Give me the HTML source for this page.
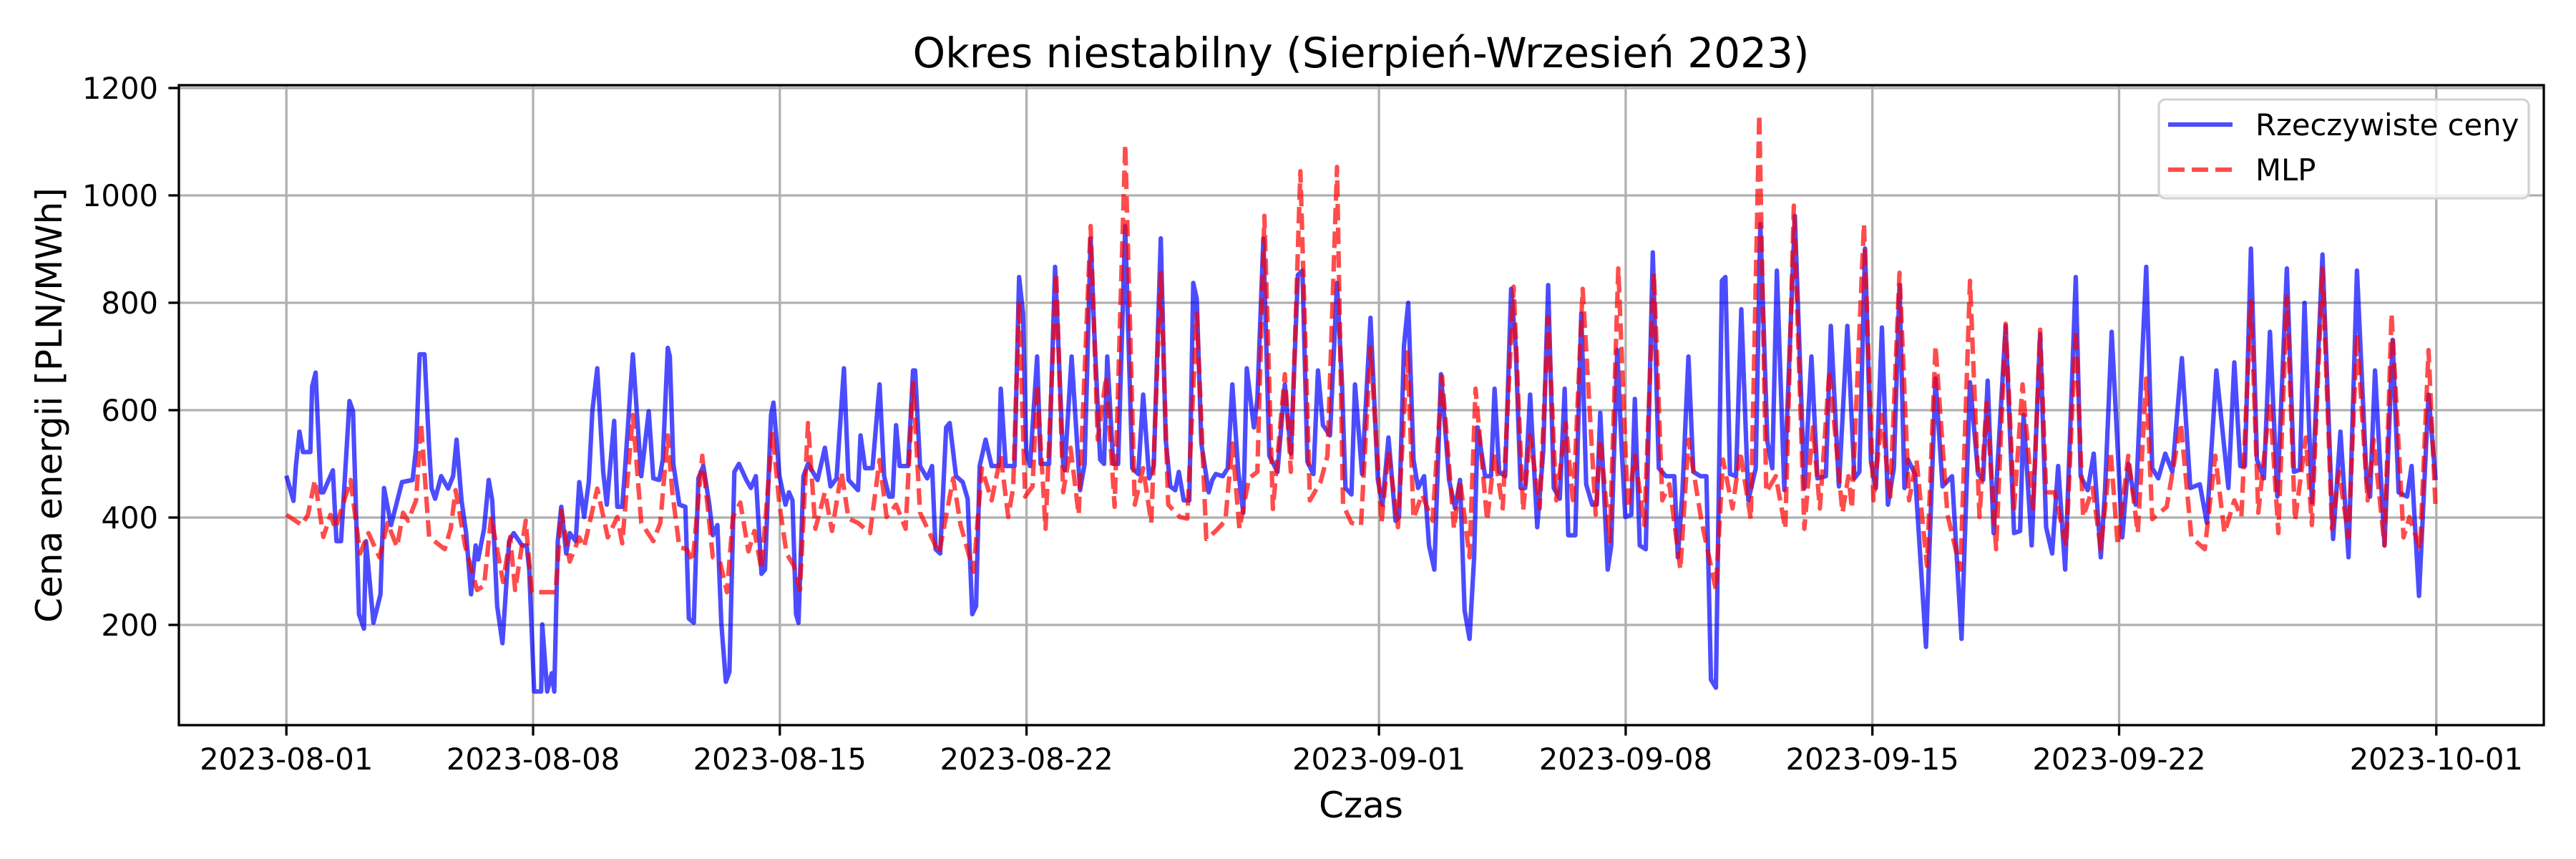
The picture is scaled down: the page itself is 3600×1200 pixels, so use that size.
<!DOCTYPE html>
<html><head><meta charset="utf-8">
<style>
html,body{margin:0;padding:0;background:#fff;}
svg{display:block;font-family:"DejaVu Sans","Liberation Sans",sans-serif;}
</style></head>
<body>
<svg id="chart" width="3600" height="1200" viewBox="0 0 3600 1200" xmlns="http://www.w3.org/2000/svg">
<rect x="0" y="0" width="3600" height="1200" fill="#fff"/>
<defs><clipPath id="plotclip"><rect x="250" y="119" width="3305" height="894"/></clipPath></defs>
<g id="grid"></g>
<g id="series" clip-path="url(#plotclip)"></g>
<rect x="250" y="119" width="3305" height="894" fill="none" stroke="#000" stroke-width="3.3"/>
<g id="ticks"></g>
<text x="1902" y="94" font-size="58" text-anchor="middle">Okres niestabilny (Sierpień-Wrzesień 2023)</text>
<text x="1902" y="1142" font-size="50" text-anchor="middle">Czas</text>
<text transform="translate(86,566) rotate(-90)" font-size="50" text-anchor="middle">Cena energii [PLN/MWh]</text>
<g>
<rect x="3017" y="139" width="517" height="138" rx="9" fill="#fff" fill-opacity="0.8" stroke="#d3d3d3" stroke-width="3.3"/>
<line x1="3030" y1="174" x2="3120" y2="174" stroke="#0000ff" stroke-opacity="0.7" stroke-width="6.25"/>
<text x="3152" y="189" font-size="41.7">Rzeczywiste ceny</text>
<line x1="3030" y1="237" x2="3120" y2="237" stroke="#ff0000" stroke-opacity="0.7" stroke-width="6.25" stroke-dasharray="23,10"/>
<text x="3152" y="252" font-size="41.7">MLP</text>
</g>
</svg>
<script>
// time in days since 2023-08-01 00:00
const actualDays = [0,.2,.27,.37,.47,.68,.73,.83,.98,1.05,1.32,1.42,1.55,1.69,1.79,1.89,1.96,2.06,2.2,2.26,2.47,2.67,2.77,2.97,3.28,3.58,3.68,3.78,3.92,4.05,4.12,4.22,4.39,4.59,4.73,4.83,4.97,5.1,5.24,5.37,5.44,5.61,5.74,5.84,5.98,6.13,6.32,6.45,6.69,6.82,6.89,7.03,7.23,7.26,7.4,7.53,7.6,7.7,7.8,7.94,8.04,8.21,8.31,8.45,8.58,8.68,8.82,8.99,9.09,9.3,9.39,9.53,9.59,9.83,10.07,10.28,10.41,10.58,10.68,10.82,10.88,10.98,11.15,11.32,11.42,11.56,11.69,11.83,12,12.1,12.23,12.34,12.47,12.57,12.71,12.84,13.05,13.18,13.32,13.48,13.58,13.75,13.82,13.99,14.16,14.26,14.36,14.46,14.53,14.67,14.8,15.07,15.28,15.44,15.61,15.82,15.95,16.22,16.29,16.42,16.63,16.83,16.96,17.1,17.2,17.3,17.4,17.64,17.78,17.84,17.98,18.18,18.32,18.42,18.55,18.72,18.82,19,19.19,19.33,19.46,19.57,19.67,19.84,20.01,20.21,20.27,20.41,20.6,20.66,20.79,20.9,20.99,21.1,21.3,21.4,21.64,21.81,21.91,22.04,22.08,22.28,22.52,22.65,22.82,22.92,23.09,23.2,23.29,23.46,23.6,23.8,24,24.17,24.31,24.48,24.61,24.81,24.95,25.08,25.22,25.32,25.46,25.62,25.73,25.83,25.96,26.17,26.27,26.37,26.57,26.71,26.84,27.01,27.15,27.25,27.45,27.55,27.72,27.89,28.12,28.33,28.5,28.7,28.83,28.97,29.14,29.27,29.41,29.61,29.81,29.95,30.05,30.22,30.32,30.52,30.76,30.97,31.1,31.27,31.47,31.57,31.71,31.83,31.98,32.11,32.28,32.42,32.57,32.76,32.99,33.16,33.3,33.43,33.57,33.7,33.8,34.01,34.18,34.28,34.41,34.58,34.75,34.88,35.02,35.15,35.29,35.49,35.66,35.8,35.96,36.13,36.27,36.37,36.57,36.74,36.88,37.05,37.18,37.28,37.49,37.59,37.76,37.89,37.99,38.16,38.26,38.4,38.57,38.77,38.94,39.14,39.38,39.48,39.61,39.78,39.92,40.12,40.29,40.42,40.56,40.73,40.83,40.96,41.13,41.28,41.48,41.69,41.82,42.02,42.16,42.29,42.5,42.8,43.07,43.27,43.44,43.68,43.82,44.05,44.29,44.49,44.63,44.79,44.96,45.1,45.27,45.44,45.61,45.77,45.91,46.01,46.21,46.52,46.79,46.99,47.26,47.53,47.77,48,48.14,48.27,48.44,48.78,49.02,49.19,49.29,49.52,49.76,49.93,50.1,50.27,50.47,50.77,50.91,51.11,51.28,51.48,51.6,51.79,52.09,52.26,52.47,52.77,52.94,53.11,53.31,53.51,53.78,54.02,54.29,54.49,54.76,55.1,55.27,55.44,55.57,55.74,55.91,56.11,56.28,56.49,56.76,56.96,57.13,57.26,57.47,57.77,58.07,58.28,58.51,58.75,59.02,59.12,59.26,59.53,59.76,59.93,60.17,60.3,60.51,60.78,60.98];
const actualVals = [478,431,496,560,522,522,644,670,447,447,488,356,356,508,617,598,447,220,193,356,204,257,455,386,466,470,530,704,704,530,454,435,477,454,477,545,432,371,257,348,322,379,470,432,235,166,356,371,348,348,303,76,76,201,76,110,76,356,420,333,371,356,466,401,466,598,678,485,424,580,420,420,473,704,477,598,473,470,508,716,700,500,424,420,212,204,473,496,424,367,386,204,94,113,485,500,470,455,477,295,303,591,614,477,424,447,432,220,204,477,500,470,530,458,473,678,470,451,553,492,492,648,477,439,439,572,496,496,674,674,496,473,496,341,333,568,576,477,466,435,220,235,496,545,496,496,640,496,496,496,848,780,523,496,700,500,500,867,712,500,488,700,451,500,920,750,508,500,700,500,500,943,492,481,629,473,496,920,545,458,451,485,432,432,837,807,538,447,470,481,477,492,648,485,409,678,568,621,920,515,485,648,519,852,860,504,481,674,572,553,837,651,455,443,648,481,772,470,424,549,394,401,720,800,508,455,477,348,303,667,470,417,470,227,174,326,568,477,477,640,485,477,826,720,455,455,629,382,523,833,455,435,640,367,367,780,462,424,424,595,303,348,712,523,401,405,621,348,341,894,492,477,477,326,447,700,485,477,477,98,83,841,848,481,477,788,432,492,947,542,492,860,451,962,455,700,473,477,757,458,757,473,485,901,504,455,754,424,492,833,455,508,481,159,659,458,477,174,652,481,470,655,371,757,371,375,591,348,742,382,333,496,303,848,477,451,519,326,450,746,363,500,424,867,492,473,519,485,697,455,462,390,674,455,689,496,496,901,508,473,746,439,864,485,489,800,428,890,360,560,326,860,473,439,674,348,731,447,439,496,254,629,470];
const mlpDays = [0,.44,.61,.81,1.05,1.25,1.39,1.82,2.09,2.33,2.64,2.87,3.14,3.31,3.45,3.68,3.82,4.05,4.49,4.66,4.8,5.07,5.41,5.61,5.81,6.15,6.35,6.49,6.79,6.96,7.64,7.8,8.04,8.31,8.45,8.82,9.12,9.39,9.53,9.83,10.07,10.41,10.61,10.82,10.95,11.15,11.36,11.53,11.8,11.96,12.1,12.3,12.5,12.67,12.88,13.11,13.28,13.48,13.79,13.99,14.19,14.4,14.57,14.8,15.01,15.28,15.48,15.75,15.95,16.22,16.56,16.83,17.03,17.3,17.57,17.78,17.98,18.25,18.52,18.92,19.13,19.5,19.73,20.01,20.27,20.48,20.62,20.79,20.96,21.17,21.3,21.54,21.84,22.04,22.25,22.48,22.82,23.02,23.26,23.5,23.8,24.07,24.31,24.54,24.81,25.02,25.35,25.56,25.83,26.1,26.37,26.64,26.84,27.04,27.31,27.55,27.75,27.99,28.33,28.5,28.77,29.04,29.34,29.54,29.81,29.98,30.22,30.49,30.76,31.07,31.27,31.54,31.81,31.98,32.22,32.52,32.79,33.13,33.3,33.57,33.74,34.07,34.28,34.51,34.82,35.09,35.29,35.56,35.8,36.03,36.3,36.51,36.78,37.15,37.28,37.55,37.79,38.06,38.26,38.53,38.8,39.04,39.24,39.55,39.78,40.15,40.56,40.76,41.03,41.25,41.55,41.79,41.99,42.26,42.53,42.77,43.07,43.31,43.51,43.78,44.15,44.32,44.42,44.76,45.03,45.27,45.5,45.77,46.04,46.25,46.55,46.79,47.13,47.5,47.77,48.04,48.24,48.51,48.78,49.02,49.26,49.56,49.76,49.93,50.17,50.5,50.77,50.98,51.25,51.48,51.76,51.96,52.26,52.53,52.77,52.94,53.35,53.75,54.05,54.43,54.73,54.99,55.27,55.47,55.74,55.95,56.28,56.52,56.76,56.99,57.3,57.47,57.77,58.04,58.24,58.51,58.75,59.05,59.22,59.53,59.73,60.07,60.24,60.54,60.78,60.98];
const mlpVals = [405,386,405,470,364,405,379,470,333,371,326,390,345,409,394,432,576,364,341,379,451,348,265,273,401,280,364,265,394,261,261,413,318,363,345,454,363,401,352,591,390,356,390,553,447,345,341,318,515,416,326,318,261,401,428,337,375,303,560,424,333,310,265,576,379,447,375,485,398,390,371,507,401,424,379,651,409,371,333,473,386,299,492,432,515,401,455,803,439,458,648,379,856,447,530,405,943,545,663,420,1095,424,492,390,856,424,401,398,780,360,375,394,538,379,473,485,962,416,667,485,1045,432,466,515,1053,424,390,386,716,390,523,382,712,398,443,394,663,379,470,326,640,394,519,417,830,413,553,417,773,432,576,424,826,405,545,356,864,417,515,386,856,432,462,303,545,394,265,508,417,523,397,1151,447,477,379,981,379,568,417,674,409,477,417,947,432,591,432,856,432,508,310,720,405,303,841,401,614,341,761,417,648,417,750,447,447,348,750,401,455,341,523,348,515,371,659,397,420,576,363,341,515,371,432,401,803,409,617,371,811,394,549,386,864,379,485,363,742,432,545,348,780,363,401,341,712,416];
const yTicks = [200,400,600,800,1000,1200];
const xTickDays = [0,7,14,21,31,38,45,52,61];
const xTickLabels = ["2023-08-01","2023-08-08","2023-08-15","2023-08-22","2023-09-01","2023-09-08","2023-09-15","2023-09-22","2023-10-01"];

const NS = "http://www.w3.org/2000/svg";
const PL = 250, PR = 3555, PT = 119, PB = 1013;
const X0 = -3.05, X1 = 64.05, Y0 = 13.3, Y1 = 1205.3;
function xs(d){ return PL + (d - X0) / (X1 - X0) * (PR - PL); }
function ys(v){ return PB - (v - Y0) / (Y1 - Y0) * (PB - PT); }
function mk(tag, attrs, parent){
  const e = document.createElementNS(NS, tag);
  for (const k in attrs) e.setAttribute(k, attrs[k]);
  parent.appendChild(e);
  return e;
}
const grid = document.getElementById('grid');
const ticks = document.getElementById('ticks');
const series = document.getElementById('series');

yTicks.forEach(v => {
  const y = ys(v);
  const g = mk('line', {x1: PL, x2: PR, y1: y, y2: y, stroke: '#b0b0b0', 'stroke-width': 3.3}, grid);
  
  
  const t = mk('line', {x1: PL - 14.6, x2: PL, y1: y, y2: y, stroke: '#000', 'stroke-width': 3.3}, ticks);
  
  
  const l = mk('text', {x: PL - 29, y: y + 15, 'font-size': 41.7, 'text-anchor': 'end'}, ticks);
  l.textContent = String(v);
  
  
});
xTickDays.forEach((d, i) => {
  const x = xs(d);
  const g = mk('line', {x1: x, x2: x, y1: PT, y2: PB, stroke: '#b0b0b0', 'stroke-width': 3.3}, grid);
  
  
  const t = mk('line', {x1: x, x2: x, y1: PB, y2: PB + 14.6, stroke: '#000', 'stroke-width': 3.3}, ticks);
  
  
  const l = mk('text', {x: x, y: 1075, 'font-size': 41.7, 'text-anchor': 'middle'}, ticks);
  l.textContent = xTickLabels[i];
  
  
});
function pathFor(days, vals){
  return days.map((d, i) => (i ? 'L' : 'M') + xs(d).toFixed(1) + ',' + ys(vals[i]).toFixed(1)).join('');
}
const actualLine = mk('path', {d: pathFor(actualDays, actualVals), fill: 'none', stroke: '#0000ff', 'stroke-opacity': 0.7, 'stroke-width': 6.25, 'stroke-linejoin': 'round'}, series);


const mlpLine = mk('path', {d: pathFor(mlpDays, mlpVals), fill: 'none', stroke: '#ff0000', 'stroke-opacity': 0.7, 'stroke-width': 6.25, 'stroke-dasharray': '23,10', 'stroke-linejoin': 'round'}, series);


</script>
</body></html>
